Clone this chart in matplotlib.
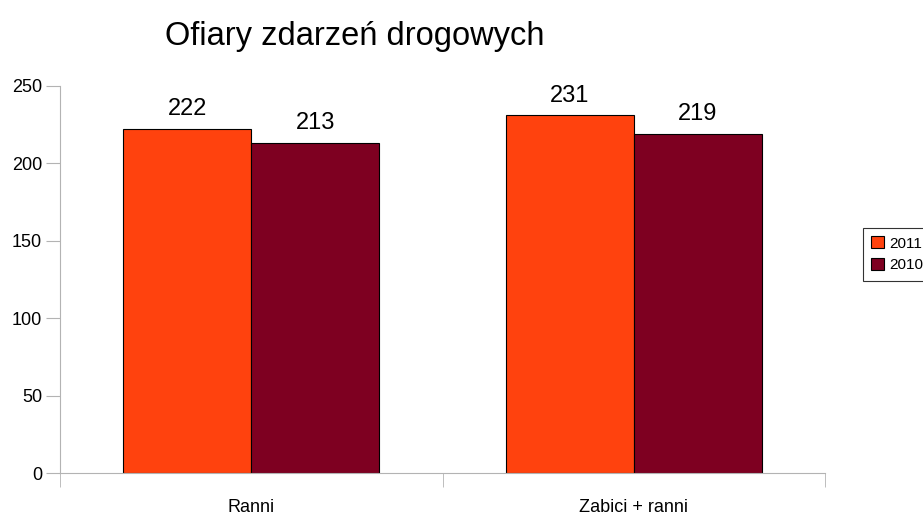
import numpy as np
import matplotlib
matplotlib.use("Agg")
from matplotlib import pyplot as plt

plt.rcParams['font.family'] = ['Liberation Sans', 'DejaVu Sans']

categories = ["Ranni", "Zabici + ranni"]
series = ["2011", "2010"]
values_2011 = [222, 231]
values_2010 = [213, 219]
colors = ["#FF420E", "#7E0021"]

fig = plt.figure(figsize=(9.23, 5.16), dpi=100)
ax = fig.add_axes([60/923, 43/516, 765/923, 387/516])

x = np.arange(len(categories))
w = 0.335
b1 = ax.bar(x - w/2, values_2011, w, color=colors[0], edgecolor="black", linewidth=0.8, label=series[0])
b2 = ax.bar(x + w/2, values_2010, w, color=colors[1], edgecolor="black", linewidth=0.8, label=series[1])
for bars in (b1, b2):
    for r in bars:
        ax.annotate(str(int(r.get_height())), (r.get_x() + r.get_width()/2, r.get_height()),
                    xytext=(0, 10), textcoords="offset points",
                    ha="center", va="baseline", fontsize=17)

ax.set_xlim(-0.5, 1.5)
ax.set_ylim(0, 250)
ax.set_yticks([0, 50, 100, 150, 200, 250])
ax.set_xticks(x)
ax.set_xticklabels(categories, fontsize=13)
ax.set_xticks([-0.5, 0.5, 1.5], minor=True)
ax.tick_params(axis="x", which="major", length=0, pad=19)
ax.tick_params(axis="x", which="minor", length=10, color="#b3b3b3", direction="out")
ax.tick_params(axis="y", length=10, color="#b3b3b3", labelsize=13, pad=3)
for s in ("top", "right"):
    ax.spines[s].set_visible(False)
for s in ("left", "bottom"):
    ax.spines[s].set_color("#b3b3b3")

fig.text(355/923, 1 - 37/516, "Ofiary zdarzeń drogowych", ha="center", va="center", fontsize=23.5)

leg = fig.legend(loc="upper left", bbox_to_anchor=(863/923, 1 - 228/516), fontsize=11,
                 frameon=True, fancybox=False, edgecolor="black", handlelength=0.8,
                 handleheight=0.8, handletextpad=0.35, borderpad=0.55, labelspacing=0.5,
                 borderaxespad=0)
leg.get_frame().set_linewidth(0.8)

fig.savefig("out.png", dpi=100)
